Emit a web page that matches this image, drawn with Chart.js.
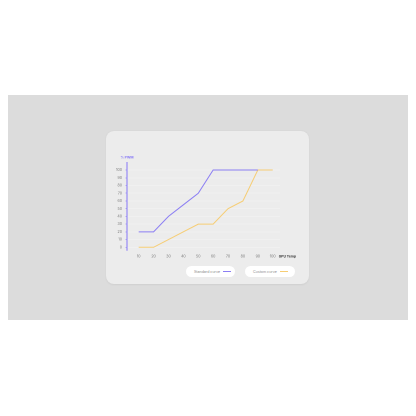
<!DOCTYPE html>
<html>
<head>
<meta charset="utf-8">
<script src="https://cdn.jsdelivr.net/npm/chart.js@4.4.1/dist/chart.umd.min.js"></script>
<style>
  html, body { margin: 0; padding: 0; background: #fff; width: 416px; height: 416px; overflow: hidden; font-family: Inter, "Noto Sans", sans-serif; }
  .banda { position: absolute; left: 8px; top: 95px; width: 400px; height: 225px; background: #dcdcdc; }
  .tarjeta { position: absolute; left: 106px; top: 131px; width: 203px; height: 153px; background: #ececec; border-radius: 8px; box-shadow: 0 0.5px 2px rgba(0,0,0,0.06); }
  .tarjeta canvas { position: absolute; left: 0; top: 0; }
  .leyenda-item { position: absolute; top: 135px; height: 11px; background: #fff; border-radius: 6px; display: flex; align-items: center; box-sizing: border-box; padding-left: 8px; font-size: 3.6px; color: #8a8a8a; }
  .leyenda-item span.linea { display: inline-block; width: 8px; height: 1px; margin-left: 3px; }
</style>
</head>
<body>
<div class="banda"></div>
<div class="tarjeta">
  <canvas id="grafico" width="203" height="135" style="width:203px;height:135px"></canvas>
  <div id="leyenda"></div>
</div>
<script>
// datos
const temperaturas = [10, 20, 30, 40, 50, 60, 70, 80, 90, 100];
const curvaEstandar = [20, 20, 40, 55, 70, 100, 100, 100, 100];
const curvaCustom = [0, 0, 10, 20, 30, 30, 50, 60, 100, 100];
const ticksY = [0, 10, 20, 30, 40, 50, 60, 70, 80, 90, 100];
const series = [
  { nombre: 'Standard curve', valores: curvaEstandar, color: '#8b7ef3', izq: 80, ancho: 49 },
  { nombre: 'Custom curve', valores: curvaCustom, color: '#f6cd74', izq: 139, ancho: 50 }
];

const AZUL = '#8677f6';

const titulosEjes = {
  id: 'titulosEjes',
  afterDraw(chart) {
    const ctx = chart.ctx;
    const x = chart.scales.x, y = chart.scales.y;
    ctx.save();
    ctx.font = 'bold 3.4px Inter, sans-serif';
    ctx.textBaseline = 'middle';
    ctx.fillStyle = AZUL;
    ctx.textAlign = 'center';
    ctx.fillText('% PWM', x.left, y.top - 5);
    ctx.fillStyle = '#333';
    ctx.textAlign = 'left';
    ctx.fillText('GPU Temp', x.getPixelForValue(100) + 6, chart.chartArea.bottom + 6.3);
    ctx.restore();
  }
};

const chart = new Chart(document.getElementById('grafico').getContext('2d'), {
  type: 'line',
  data: {
    datasets: series.map(s => ({
      label: s.nombre,
      data: s.valores.map((v, i) => ({ x: temperaturas[i], y: v })),
      borderColor: s.color,
      borderWidth: 1,
      pointRadius: 0,
      tension: 0,
      fill: false
    }))
  },
  options: {
    responsive: false,
    animation: false,
    devicePixelRatio: 2,
    layout: { padding: { left: 0, right: 29, top: 31.7, bottom: 0 } },
    plugins: { legend: { display: false }, tooltip: { enabled: false } },
    scales: {
      x: {
        type: 'linear',
        min: 2.15,
        max: 104.9,
        afterBuildTicks: s => { s.ticks = temperaturas.map(v => ({ value: v })); },
        afterFit: s => { s.height = 15.6; },
        grid: { display: false, drawTicks: false },
        border: { display: false },
        ticks: { padding: 4, color: '#777', font: { size: 3.6, family: 'Inter' }, maxRotation: 0, autoSkip: false }
      },
      y: {
        min: -4,
        max: 109.5,
        afterBuildTicks: s => { s.ticks = ticksY.map(v => ({ value: v })); },
        afterFit: s => { s.width = 21; },
        grid: { color: 'rgba(255,255,255,0.45)', lineWidth: 0.6, tickLength: 1.5, tickColor: AZUL },
        border: { display: true, color: AZUL, width: 1 },
        ticks: { padding: 3.5, color: '#777', font: { size: 3.6, family: 'Inter' }, autoSkip: false }
      }
    }
  },
  plugins: [titulosEjes]
});

// leyenda en html
document.getElementById('leyenda').innerHTML = series.map(s => `
  <div class="leyenda-item" style="left:${s.izq}px;width:${s.ancho}px">
    ${s.nombre}<span class="linea" style="background:${s.color}"></span>
  </div>
`).join('');
</script>
</body>
</html>
